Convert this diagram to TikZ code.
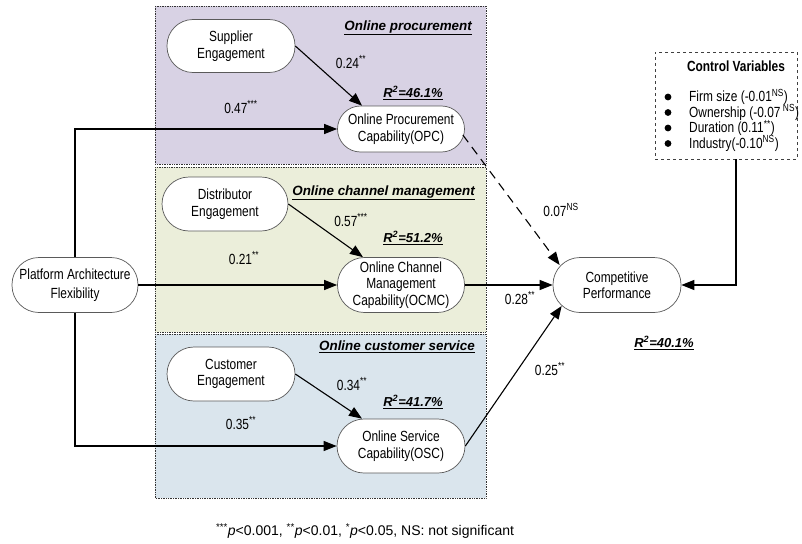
\documentclass[tikz,border=0pt]{standalone}
\usepackage{fontspec}
\setmainfont{Liberation Sans}[FakeStretch=0.81]
\newfontfamily\widefont{Liberation Sans}
\usetikzlibrary{arrows.meta,calc}
\definecolor{procfill}{RGB}{216,210,228}
\definecolor{chanfill}{RGB}{235,238,218}
\definecolor{servfill}{RGB}{218,229,237}
\definecolor{nodeline}{RGB}{90,90,90}
\begin{document}
\begin{tikzpicture}[x=1pt,y=-1pt,
  pill/.style={draw=nodeline, line width=0.7pt, fill=white, minimum width=128pt,
    minimum height=54pt, rounded corners=27pt, align=center, inner sep=0pt,
    font=\fontsize{14.7}{16.5}\selectfont},
  areabox/.style={draw=black!80, line width=0.7pt, densely dotted},
  conn/.style={line width=1.1pt, -{Triangle[length=13pt,width=10pt]}},
  coef/.style={font=\fontsize{14.7}{16.5}\selectfont, inner sep=0pt},
  areatitle/.style={font=\widefont\fontsize{13.4}{15}\bfseries\itshape, inner sep=0pt, anchor=east},
  rsq/.style={font=\widefont\fontsize{13}{15}\bfseries\itshape, inner sep=0pt}]
\useasboundingbox (0,0) rectangle (802,543);

% area boxes
\draw[areabox, fill=procfill] (155,6) rectangle (486,164);
\draw[areabox, fill=chanfill] (155,167) rectangle (486,332);
\draw[areabox, fill=servfill] (155,334) rectangle (486,498);

\node[areatitle] (t1) at (472,28) {\underline{Online procurement}};
\node[areatitle] (t2) at (475,193) {\underline{Online channel management}};
\node[areatitle] (t3) at (475,347) {\underline{Online customer service}};

% nodes
\node[pill, minimum width=126pt, minimum height=55pt, font=\fontsize{14.7}{19}\selectfont] (PAF) at (75,285) {Platform Architecture\\Flexibility};
\node[pill, minimum height=53pt, rounded corners=26pt] (SE) at (231,46) {Supplier\\Engagement};
\node[pill, minimum width=127pt, minimum height=46pt, rounded corners=23pt] (OPC) at (401,129) {Online Procurement\\Capability(OPC)};
\node[pill, minimum width=126pt] (DE) at (225,204) {Distributor\\Engagement};
\node[pill, minimum width=127pt, minimum height=55pt] (OCMC) at (401,285) {Online Channel\\Management\\Capability(OCMC)};
\node[pill] (CE) at (231,374) {Customer\\Engagement};
\node[pill] (OSC) at (401,446) {Online Service\\Capability(OSC)};
\node[pill, minimum height=55pt] (CP) at (617,285) {Competitive\\Performance};

% control variables
\node[draw=black!75, line width=0.7pt, dashed, minimum width=142pt, minimum height=107pt, inner sep=0pt] (CV) at (726,105.5) {};
\node[font=\fontsize{14.7}{16.5}\selectfont\bfseries, inner sep=0pt] (cvt) at (736,66) {Control Variables};
\node[font=\fontsize{14.7}{16.5}\selectfont, anchor=west, inner sep=0pt] (cv1) at (689,97) {Firm size (-0.01\textsuperscript{NS})};
\node[font=\fontsize{14.7}{16.5}\selectfont, anchor=west, inner sep=0pt] (cv2) at (689,112.5) {Ownership (-0.07\,\textsuperscript{NS})};
\node[font=\fontsize{14.7}{16.5}\selectfont, anchor=west, inner sep=0pt] (cv3) at (689,128) {Duration (0.11\textsuperscript{**})};
\node[font=\fontsize{14.7}{16.5}\selectfont, anchor=west, inner sep=0pt] (cv4) at (689,143.5) {Industry(-0.10\textsuperscript{NS})};
\foreach \n in {1,2,3,4} {
  \fill ($(cv\n.west)+(-21,0)$) circle (3.4pt);
}

% connectors
\draw[conn] (SE.east) -- ($(OPC.north)+(-39,0)$);
\draw[conn] (DE.east) -- ($(OCMC.north)+(-38,0)$);
\draw[conn] (CE.east) -- ($(OSC.north)+(-39,0)$);
\draw[conn] (PAF.north) |- (OPC.west);
\draw[conn] (PAF.east) -- (OCMC.west);
\draw[conn] (PAF.south) |- (OSC.west);
\draw[conn, dash pattern=on 9pt off 6pt] ($(OPC.east)+(-2,6)$) -- ($(CP.west)+(7,-20)$);
\draw[conn] (OCMC.east) -- (CP.west);
\draw[conn] (OSC.east) -- ($(CP.west)+(9,21)$);
\draw[conn] ($(CV.south)+(10,0)$) |- (CP.east);

% coefficient labels
\node[coef] (c1) at (351,62) {0.24\textsuperscript{**}};
\node[coef] (c2) at (241,107) {0.47\textsuperscript{***}};
\node[coef] (c3) at (351,220) {0.57\textsuperscript{***}};
\node[coef] (c4) at (244,258) {0.21\textsuperscript{**}};
\node[coef] (c5) at (352,384) {0.34\textsuperscript{**}};
\node[coef] (c6) at (241,423) {0.35\textsuperscript{**}};
\node[coef] (c7) at (561,210) {0.07\textsuperscript{NS}};
\node[coef] (c8) at (520,298) {0.28\textsuperscript{**}};
\node[coef] (c9) at (550,369) {0.25\textsuperscript{**}};

% R squared
\node[rsq] (r1) at (413,93) {\underline{R\textsuperscript{2}=46.1\%}};
\node[rsq] (r2) at (413,238) {\underline{R\textsuperscript{2}=51.2\%}};
\node[rsq] (r3) at (413,402) {\underline{R\textsuperscript{2}=41.7\%}};
\node[rsq] (r4) at (664,343) {\underline{R\textsuperscript{2}=40.1\%}};

% footnote
\node[font=\widefont\fontsize{14}{16}\selectfont, inner sep=0pt] (fn) at (365,531)
  {\textsuperscript{***}\textit{p}<0.001, \textsuperscript{**}\textit{p}<0.01, \textsuperscript{*}\textit{p}<0.05, NS: not significant};
\end{tikzpicture}
\end{document}
